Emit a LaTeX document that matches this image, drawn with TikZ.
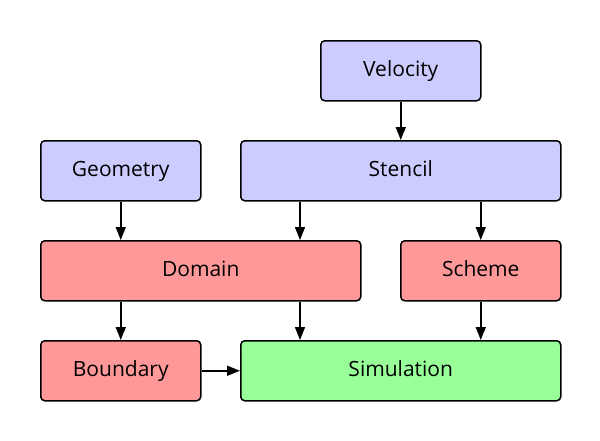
\documentclass[tikz,border=0pt]{standalone}
\usepackage{fontspec}
\setmainfont{Open Sans}
\usetikzlibrary{arrows.meta}
\definecolor{cblue}{HTML}{CCCCFF}
\definecolor{cred}{HTML}{FF9999}
\definecolor{cgreen}{HTML}{99FF99}
\tikzset{
  box/.style={draw=black, line width=1.5pt, rounded corners=4pt, minimum height=60pt, inner sep=0pt, text height=15pt, text depth=4pt, font=\fontsize{21pt}{24pt}\selectfont, anchor=north west},
  bluebox/.style={box, fill=cblue},
  redbox/.style={box, fill=cred},
  greenbox/.style={box, fill=cgreen},
  conn/.style={line width=1.5pt, -{Triangle[length=13pt,width=10pt]}}
}
\begin{document}
\begin{tikzpicture}[x=1pt,y=-1pt]
\useasboundingbox (0,0) rectangle (600,440);
\node[bluebox, minimum width=160pt] (vel) at (320,40) {Velocity};
\node[bluebox, minimum width=160pt] (geo) at (40,140) {Geometry};
\node[bluebox, minimum width=320pt] (sten) at (240,140) {Stencil};
\node[redbox, minimum width=320pt] (dom) at (40,240) {Domain};
\node[redbox, minimum width=160pt] (sch) at (400,240) {Scheme};
\node[redbox, minimum width=160pt] (bnd) at (40,340) {Boundary};
\node[greenbox, minimum width=320pt] (sim) at (240,340) {Simulation};
\draw[conn] (vel.south) -- (vel.south |- sten.north);
\draw[conn] (geo.south) -- (geo.south |- dom.north);
\draw[conn] ([xshift=60pt]sten.south west) -- ([xshift=60pt]sten.south west |- dom.north);
\draw[conn] (sch.north |- sten.south) -- (sch.north);
\draw[conn] (bnd.north |- dom.south) -- (bnd.north);
\draw[conn] ([xshift=60pt]sim.north west |- dom.south) -- ([xshift=60pt]sim.north west);
\draw[conn] (sch.south) -- (sch.south |- sim.north);
\draw[conn] (bnd.east) -- (sim.west);
\end{tikzpicture}
\end{document}
